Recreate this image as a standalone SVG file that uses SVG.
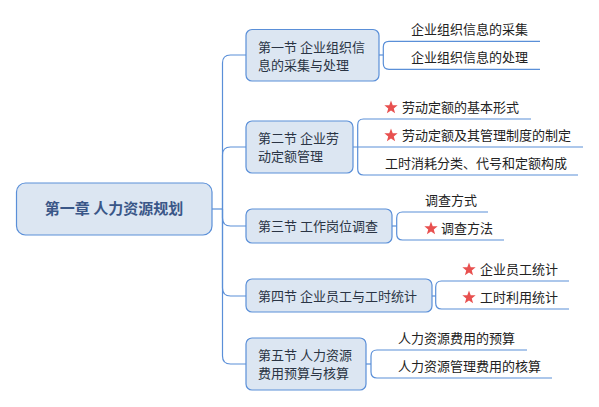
<svg xmlns="http://www.w3.org/2000/svg" xmlns:xlink="http://www.w3.org/1999/xlink" width="599" height="407" viewBox="0 0 599 407">
<style>
.box{fill:#dce6f2;stroke:#5a8fd8;stroke-width:1.2}
.ln{fill:none;stroke:#5a8fd8;stroke-width:1.2}
.t{font-family:"Noto Sans CJK SC","Noto Sans",sans-serif;font-size:13px;fill:#222}
.nt{font-family:"Noto Sans CJK SC","Noto Sans",sans-serif;font-size:13px;fill:#2a3444}
.rt{font-family:"Noto Sans CJK SC","Noto Sans",sans-serif;font-size:15px;font-weight:bold;fill:#3a5788}
.star{fill:#e8504f}
</style>
<defs>
<path id="star" d="M0,-7 L1.71,-2.35 L6.66,-2.16 L2.77,0.9 L4.11,5.66 L0,2.9 L-4.11,5.66 L-2.77,0.9 L-6.66,-2.16 L-1.71,-2.35Z"/>
</defs>
<g id="connectors">
<path class="ln" d="M212,209 H222.5"/>
<path class="ln" d="M222.5,209 V63 Q222.5,55 230.5,55 H246"/>
<path class="ln" d="M222.5,209 V155 Q222.5,147 230.5,147 H246"/>
<path class="ln" d="M222.5,209 V218 Q222.5,226 230.5,226 H246"/>
<path class="ln" d="M222.5,209 V288 Q222.5,296 230.5,296 H246"/>
<path class="ln" d="M222.5,209 V356 Q222.5,364 230.5,364 H246"/>
<path class="ln" d="M379,55 H383.3"/>
<path class="ln" d="M540,41.3 H389 Q383.3,41.3 383.3,47 V63.5 Q383.3,69.3 389,69.3 H540"/>
<path class="ln" d="M353,147 H583"/>
<path class="ln" d="M531,119 H363.5 Q357.7,119 357.7,125 V169 Q357.7,175 363.5,175 H578"/>
<path class="ln" d="M392,226 H396.7"/>
<path class="ln" d="M488,212 H402.5 Q396.7,212 396.7,218 V234 Q396.7,240 402.5,240 H504"/>
<path class="ln" d="M432,296 H435.7"/>
<path class="ln" d="M569,281 H441.5 Q435.7,281 435.7,287 V303 Q435.7,309 441.5,309 H569"/>
<path class="ln" d="M366,364 H371"/>
<path class="ln" d="M527,350 H377 Q371,350 371,356 V372 Q371,378 377,378 H552"/>
</g>
<g id="root">
<rect class="box" x="16.5" y="183" width="195.5" height="52" rx="9"/>
<text class="rt" x="114" y="214" text-anchor="middle">第一章 人力资源规划</text>
</g>
<g id="n1">
<rect class="box" x="246" y="29.5" width="133" height="51.5" rx="6"/>
<text class="nt" x="258" y="51.5">第一节 企业组织信</text>
<text class="nt" x="258" y="69.5">息的采集与处理</text>
</g>
<g id="n2">
<rect class="box" x="246" y="121" width="107" height="52" rx="6"/>
<text class="nt" x="258" y="143">第二节 企业劳</text>
<text class="nt" x="258" y="161">动定额管理</text>
</g>
<g id="n3">
<rect class="box" x="246" y="209" width="146" height="34" rx="6"/>
<text class="nt" x="258" y="231">第三节 工作岗位调查</text>
</g>
<g id="n4">
<rect class="box" x="246" y="279" width="186" height="33" rx="6"/>
<text class="nt" x="258" y="300.5">第四节 企业员工与工时统计</text>
</g>
<g id="n5">
<rect class="box" x="246" y="338" width="120" height="52" rx="6"/>
<text class="nt" x="258" y="360">第五节 人力资源</text>
<text class="nt" x="258" y="378">费用预算与核算</text>
</g>
<g id="l1a"><text class="t" x="411" y="34">企业组织信息的采集</text></g>
<g id="l1b"><text class="t" x="411" y="62">企业组织信息的处理</text></g>
<g id="l2a"><use href="#star" class="star" x="391" y="107.5"/><text class="t" x="402" y="112">劳动定额的基本形式</text></g>
<g id="l2b"><use href="#star" class="star" x="391" y="135.5"/><text class="t" x="402" y="140">劳动定额及其管理制度的制定</text></g>
<g id="l2c"><text class="t" x="385" y="168">工时消耗分类、代号和定额构成</text></g>
<g id="l3a"><text class="t" x="425" y="205">调查方式</text></g>
<g id="l3b"><use href="#star" class="star" x="431" y="228.5"/><text class="t" x="441" y="233">调查方法</text></g>
<g id="l4a"><use href="#star" class="star" x="469" y="269.5"/><text class="t" x="480" y="274">企业员工统计</text></g>
<g id="l4b"><use href="#star" class="star" x="469" y="297.5"/><text class="t" x="480" y="302">工时利用统计</text></g>
<g id="l5a"><text class="t" x="398" y="342.5">人力资源费用的预算</text></g>
<g id="l5b"><text class="t" x="398" y="370.5">人力资源管理费用的核算</text></g>
</svg>
